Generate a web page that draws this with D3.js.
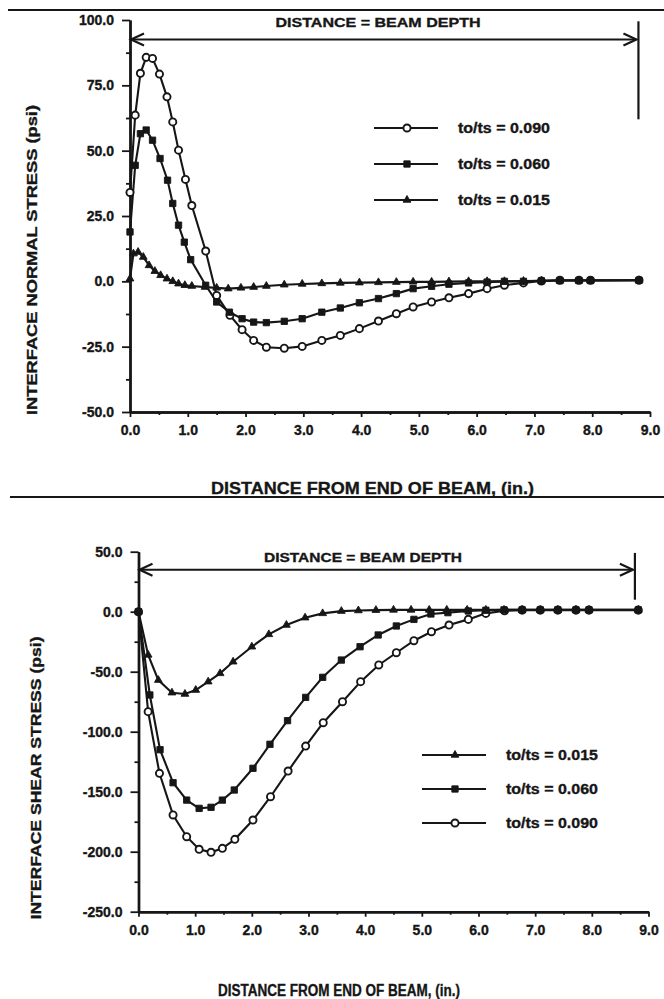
<!DOCTYPE html>
<html>
<head>
<meta charset="utf-8">
<script src="https://cdn.jsdelivr.net/npm/d3@7/dist/d3.min.js"></script>
<style>
body { margin: 0; background: #fff; }
text { font-family: "Liberation Sans", Arial, sans-serif; font-weight: bold; fill: #161616; stroke: #161616; stroke-width: 0.35px; }
</style>
</head>
<body>
<svg id="graph" width="664" height="999"></svg>
<script>
// top chart: interface normal stress
var normX090 = [0, 0.09, 0.18, 0.28, 0.39, 0.51, 0.64, 0.74, 0.84, 0.96, 1.07, 1.31, 1.50, 1.73, 1.94, 2.14, 2.36, 2.67, 2.98, 3.32, 3.64, 3.97, 4.30, 4.61, 4.90, 5.22, 5.52, 5.86, 6.18, 6.48, 6.81, 7.12, 7.44, 7.77, 7.97, 8.81];
var normY090 = [34, 63.6, 79.6, 85.7, 85.3, 79.3, 70.6, 61, 50.2, 39, 29, 11.6, -5.4, -13, -18.5, -22.6, -25.2, -25.6, -24.9, -22.6, -20.7, -18.1, -15.2, -12.4, -9.8, -7.9, -6.3, -4.7, -2.8, -1.5, -0.6, 0.1, 0.4, 0.4, 0.4, 0.4];
var normX060 = [0, 0.09, 0.18, 0.28, 0.39, 0.52, 0.65, 0.74, 0.84, 0.94, 1.05, 1.31, 1.50, 1.72, 1.94, 2.14, 2.36, 2.67, 2.98, 3.32, 3.64, 3.97, 4.30, 4.61, 4.90, 5.22, 5.52, 5.86, 6.18, 6.48, 6.81, 7.12, 7.44, 7.77, 7.97, 8.81];
var normY060 = [18.9, 44.4, 56.5, 57.9, 54, 47, 38.7, 29.8, 21.5, 15, 8.3, -1.5, -7.9, -11.8, -14.3, -15.6, -15.8, -15.3, -14.3, -11.8, -10.2, -8.2, -6.6, -4.7, -2.8, -1.9, -1.1, -0.6, -0.3, 0, 0, 0.2, 0.3, 0.3, 0.3, 0.4];
var normX015 = [0, 0.06, 0.14, 0.23, 0.33, 0.43, 0.53, 0.64, 0.74, 0.84, 0.95, 1.07, 1.30, 1.50, 1.70, 1.92, 2.14, 2.36, 2.67, 2.98, 3.32, 3.64, 3.97, 4.30, 4.61, 4.90, 5.22, 5.52, 5.86, 6.18, 6.48, 6.81, 7.12, 7.44, 7.77, 7.97, 8.81];
var normY015 = [1, 10.6, 11.2, 9.3, 6.1, 3.9, 2.3, 1, 0, -0.9, -1.5, -1.8, -2.2, -2.5, -2.8, -2.5, -2.2, -1.8, -1.3, -1, -0.8, -0.6, -0.5, -0.4, -0.3, -0.2, -0.2, -0.1, 0, 0, 0, 0.1, 0.2, 0.3, 0.3, 0.3, 0.4];

// bottom chart: interface shear stress
var shearX015 = [0, 0.17, 0.35, 0.59, 0.82, 1.01, 1.23, 1.44, 1.67, 2.00, 2.30, 2.61, 2.94, 3.25, 3.58, 3.88, 4.19, 4.50, 4.81, 5.13, 5.44, 5.80, 6.13, 6.45, 6.77, 7.09, 7.40, 7.72, 7.95, 8.82];
var shearY015 = [0, -36, -57, -67.5, -68.6, -65.3, -58.3, -51.4, -41.7, -29.2, -18.9, -11.1, -5, -1.4, 0.5, 1, 1.3, 1.5, 1.5, 1.5, 1.5, 1.5, 1.5, 1.5, 1.5, 1.5, 1.5, 1.5, 1.5, 1.5];
var shearX060 = [0, 0.20, 0.38, 0.61, 0.85, 1.07, 1.28, 1.48, 1.69, 2.02, 2.32, 2.63, 2.95, 3.25, 3.58, 3.91, 4.23, 4.55, 4.86, 5.16, 5.46, 5.82, 6.13, 6.45, 6.77, 7.09, 7.40, 7.72, 7.95, 8.82];
var shearY060 = [0, -69.4, -115, -142.5, -157, -163.9, -163, -157, -148.6, -130.5, -110.5, -90.8, -71.4, -54.7, -40.3, -29.2, -19.4, -11.9, -6.4, -1.9, -0.8, 0.6, 1.2, 1.5, 1.5, 1.5, 1.5, 1.5, 1.5, 1.5];
var shearX090 = [0, 0.17, 0.37, 0.61, 0.85, 1.07, 1.28, 1.48, 1.70, 2.02, 2.33, 2.64, 2.95, 3.26, 3.60, 3.92, 4.24, 4.55, 4.86, 5.17, 5.48, 5.82, 6.13, 6.46, 6.77, 7.09, 7.40, 7.72, 7.95, 8.82];
var shearY090 = [0, -83.3, -134.7, -169.4, -187.5, -198, -200.5, -197.2, -189.7, -173.6, -154.2, -132.8, -112, -92.5, -75, -58.3, -44.4, -34.2, -24.2, -16.7, -11.1, -6.4, -1.4, 0.8, 1.3, 1.3, 1.3, 1.3, 1.3, 1.3];

var xTicks = [0, 1, 2, 3, 4, 5, 6, 7, 8, 9];
var xMinor = [0.5, 1.5, 2.5, 3.5, 4.5, 5.5, 6.5, 7.5, 8.5];
var normTicks = [-50, -25, 0, 25, 50, 75, 100];
var normMinor = [-37.5, -12.5, 12.5, 37.5, 62.5, 87.5];
var shearTicks = [-250, -200, -150, -100, -50, 0, 50];
var shearMinor = [-225, -175, -125, -75, -25, 25];

var normLabels = ["to/ts = 0.090", "to/ts = 0.060", "to/ts = 0.015"];
var shearLabels = ["to/ts = 0.015", "to/ts = 0.060", "to/ts = 0.090"];
var xTitle = "DISTANCE FROM END OF BEAM, (in.)";
var depthText = "DISTANCE = BEAM DEPTH";
var beamDepth = 8.8;

var ink = "#161616";
var graph = d3.select("#graph");
var markOrder = {circle: 0, square: 1, triangle: 2};

function zip(xs, ys) {
	return xs.map(function(x, i) { return {x: x, y: ys[i]}; });
}

function marker(kind) {
	if (kind == "circle") return d3.symbol().type(d3.symbolCircle).size(40)();
	if (kind == "square") return d3.symbol().type(d3.symbolSquare).size(40)();
	return d3.symbol().type(d3.symbolTriangle).size(26)();
}

function drawMarks(g, pts, kind) {
	g.selectAll(null).data(pts).enter().append("path")
		.attr("d", marker(kind))
		.attr("transform", function(d) { return "translate(" + d[0] + "," + d[1] + ")"; })
		.attr("fill", kind == "circle" ? "#fff" : ink)
		.attr("stroke", ink)
		.attr("stroke-width", kind == "circle" ? 1.9 : 0.9);
}

function drawChart(c) {
	var g = graph.append("g");
	var x = d3.scaleLinear().domain([0, 9]).range([c.left, c.right]);
	var y = d3.scaleLinear().domain(c.yDomain).range([c.bottom, c.top]);
	var fmt = function(d) { return d.toFixed(1); };

	var axis = d3.axisBottom(x).tickValues(xTicks).tickFormat(fmt).tickSize(5).tickPadding(8).tickSizeOuter(0);
	g.append("g").attr("transform", "translate(0," + c.bottom + ")").call(axis);
	g.append("g").attr("transform", "translate(0," + c.bottom + ")")
		.call(d3.axisBottom(x).tickValues(xMinor).tickFormat("").tickSize(3).tickSizeOuter(0));
	axis = d3.axisLeft(y).tickValues(c.yTicks).tickFormat(fmt).tickSize(8).tickPadding(8).tickSizeOuter(0);
	g.append("g").attr("transform", "translate(" + c.left + ",0)").call(axis);
	g.append("g").attr("transform", "translate(" + c.left + ",0)")
		.call(d3.axisLeft(y).tickValues(c.yMinor).tickFormat("").tickSize(4).tickSizeOuter(0));
	g.selectAll(".domain").attr("stroke", ink).attr("stroke-width", 2.4);
	g.selectAll(".tick line").attr("stroke", ink).attr("stroke-width", 1.8);
	g.selectAll(".tick text").attr("font-size", 14).attr("fill", ink)
		.attr("font-family", "'Liberation Sans', Arial, sans-serif").attr("font-weight", "bold");

	// series
	var line = d3.line().x(function(d) { return x(d.x); }).y(function(d) { return y(d.y); });
	c.series.forEach(function(s) {
		g.append("path")
			.attr("d", line(zip(s.xs, s.ys)))
			.attr("stroke", ink)
			.attr("stroke-width", 2.1)
			.attr("fill", "none");
	});
	c.series.slice().sort(function(a, b) { return markOrder[a.kind] - markOrder[b.kind]; }).forEach(function(s) {
		var pts = zip(s.xs, s.ys).map(function(d) { return [x(d.x), y(d.y)]; });
		drawMarks(g, pts, s.kind);
	});

	// beam depth arrow
	var ya = y(c.arrowY), x1 = x(0) + 1, x2 = x(c.depth) - 2;
	g.append("line").attr("x1", x1).attr("x2", x2).attr("y1", ya).attr("y2", ya)
		.attr("stroke", ink).attr("stroke-width", 2);
	g.append("path").attr("d", "M" + (x1 + 13) + "," + (ya - 6) + "L" + x1 + "," + ya + "L" + (x1 + 13) + "," + (ya + 6))
		.attr("fill", "none").attr("stroke", ink).attr("stroke-width", 2.2);
	g.append("path").attr("d", "M" + (x2 - 13) + "," + (ya - 6) + "L" + x2 + "," + ya + "L" + (x2 - 13) + "," + (ya + 6))
		.attr("fill", "none").attr("stroke", ink).attr("stroke-width", 2.2);
	g.append("line").attr("x1", x(c.depth)).attr("x2", x(c.depth))
		.attr("y1", y(c.barTop)).attr("y2", y(c.barBottom))
		.attr("stroke", ink).attr("stroke-width", 2.2);
	g.append("text").attr("x", c.depthTextX).attr("y", c.depthTextY)
		.attr("text-anchor", "middle").attr("font-size", 13.5)
		.attr("textLength", c.depthTextLen).attr("lengthAdjust", "spacingAndGlyphs")
		.text(depthText);

	// legend
	c.series.slice().sort(function(a, b) { return a.legendRow - b.legendRow; }).forEach(function(s, i) {
		var ly = c.legendY + i * c.legendGap;
		g.append("line").attr("x1", c.legendX).attr("x2", c.legendX + 64)
			.attr("y1", ly).attr("y2", ly).attr("stroke", ink).attr("stroke-width", 2.1);
		drawMarks(g, [[c.legendX + 33, ly]], s.kind);
		g.append("text").attr("x", c.legendX + 84).attr("y", ly).attr("dy", "0.36em")
			.attr("font-size", 14.5).attr("textLength", 92).attr("lengthAdjust", "spacingAndGlyphs")
			.text(s.label);
	});

	// titles
	g.append("text").attr("transform", "translate(" + c.yTitleX + "," + c.yTitleY + ") rotate(-90)")
		.attr("text-anchor", "middle").attr("dy", "0.36em").attr("font-size", 15.5)
		.attr("textLength", c.yTitleLen).attr("lengthAdjust", "spacingAndGlyphs")
		.text(c.yTitle);
	g.append("text").attr("x", c.xTitleX).attr("y", c.xTitleY)
		.attr("font-size", c.xTitleSize)
		.attr("textLength", c.xTitleLen).attr("lengthAdjust", "spacingAndGlyphs")
		.text(xTitle);
}

// rules of the page
graph.append("line").attr("x1", 8).attr("x2", 664).attr("y1", 10).attr("y2", 10)
	.attr("stroke", ink).attr("stroke-width", 2);
graph.append("line").attr("x1", 10).attr("x2", 664).attr("y1", 497).attr("y2", 497)
	.attr("stroke", ink).attr("stroke-width", 2);

drawChart({
	left: 130, right: 650, top: 20, bottom: 412,
	yDomain: [-50, 100], yTicks: normTicks, yMinor: normMinor,
	series: [
		{xs: normX090, ys: normY090, kind: "circle", label: normLabels[0], legendRow: 0},
		{xs: normX060, ys: normY060, kind: "square", label: normLabels[1], legendRow: 1},
		{xs: normX015, ys: normY015, kind: "triangle", label: normLabels[2], legendRow: 2}
	],
	arrowY: 92.5, depth: beamDepth, barTop: 99.5, barBottom: 62,
	depthTextX: 378, depthTextY: 27, depthTextLen: 205,
	legendX: 374, legendY: 128, legendGap: 36,
	yTitle: "INTERFACE NORMAL STRESS (psi)", yTitleX: 31, yTitleY: 260, yTitleLen: 310,
	xTitleX: 211, xTitleY: 494, xTitleSize: 17, xTitleLen: 323
});

drawChart({
	left: 138.5, right: 648.5, top: 551.7, bottom: 911.7,
	yDomain: [-250, 50], yTicks: shearTicks, yMinor: shearMinor,
	series: [
		{xs: shearX015, ys: shearY015, kind: "triangle", label: shearLabels[0], legendRow: 0},
		{xs: shearX060, ys: shearY060, kind: "square", label: shearLabels[1], legendRow: 1},
		{xs: shearX090, ys: shearY090, kind: "circle", label: shearLabels[2], legendRow: 2}
	],
	arrowY: 35, depth: 8.76, barTop: 49, barBottom: 10,
	depthTextX: 363, depthTextY: 562, depthTextLen: 198,
	legendX: 422, legendY: 755, legendGap: 34,
	yTitle: "INTERFACE SHEAR STRESS (psi)", yTitleX: 35, yTitleY: 778, yTitleLen: 283,
	xTitleX: 218, xTitleY: 996, xTitleSize: 16, xTitleLen: 242
});
</script>
</body>
</html>
